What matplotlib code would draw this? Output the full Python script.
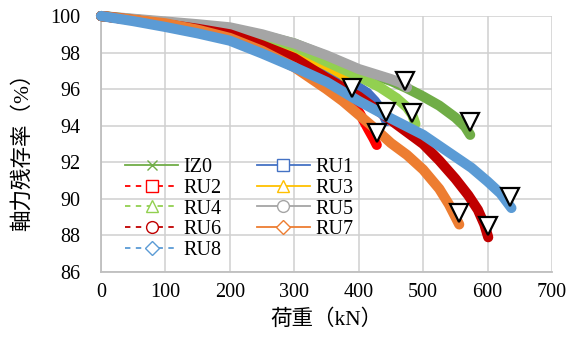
import matplotlib
matplotlib.use("Agg")
import matplotlib.pyplot as plt
from matplotlib.lines import Line2D

plt.rcParams['font.family'] = ['Liberation Serif', 'Noto Sans CJK JP', 'DejaVu Sans']

# ---- data (load kN, residual axial force ratio %) ----
names = ["IZ0", "RU1", "RU2", "RU3", "RU4", "RU5", "RU6", "RU7", "RU8"]

x_IZ0 = [0, 50, 100, 150, 200, 250, 300, 350, 400, 450, 475, 500, 525, 550, 565, 573]
y_IZ0 = [100, 99.82, 99.65, 99.5, 99.3, 98.95, 98.5, 97.8, 97.05, 96.45, 96.05, 95.6, 95.1, 94.45, 93.95, 93.5]

x_RU1 = [0, 50, 100, 150, 200, 250, 300, 350, 375, 400, 413, 425, 435, 443]
y_RU1 = [100, 99.78, 99.55, 99.3, 99.0, 98.5, 97.8, 96.95, 96.55, 96.1, 95.8, 95.35, 94.85, 94.25]

x_RU2 = [0, 50, 100, 150, 200, 250, 300, 350, 375, 389, 402, 415, 423, 428]
y_RU2 = [100, 99.78, 99.55, 99.3, 99.0, 98.4, 97.5, 96.4, 95.8, 95.35, 94.65, 93.8, 93.3, 92.95]

x_RU3 = [0, 50, 100, 150, 200, 250, 300, 350, 375, 390]
y_RU3 = [100, 99.8, 99.6, 99.4, 99.2, 98.75, 98.1, 97.3, 96.8, 96.3]

x_RU4 = [0, 50, 100, 150, 200, 250, 300, 350, 400, 433, 459, 475, 483, 488]
y_RU4 = [100, 99.82, 99.65, 99.5, 99.3, 98.9, 98.35, 97.5, 96.7, 96.1, 95.5, 95.0, 94.6, 94.1]

x_RU5 = [0, 50, 100, 150, 200, 250, 300, 350, 400, 450, 465, 475]
y_RU5 = [100, 99.85, 99.7, 99.55, 99.38, 99.0, 98.5, 97.85, 97.1, 96.55, 96.35, 96.1]

x_RU6 = [0, 50, 100, 150, 200, 250, 300, 350, 400, 450, 500, 525, 550, 570, 585, 595, 601]
y_RU6 = [100, 99.78, 99.55, 99.3, 99.0, 98.4, 97.7, 96.6, 95.6, 94.3, 93.0, 92.1, 91.1, 90.2, 89.4, 88.6, 87.9]

x_RU7 = [0, 50, 100, 150, 200, 250, 300, 350, 375, 400, 425, 450, 475, 500, 525, 540, 556]
y_RU7 = [100, 99.8, 99.6, 99.25, 98.8, 98.1, 97.2, 96.0, 95.35, 94.6, 93.85, 93.05, 92.4, 91.6, 90.55, 89.7, 88.6]

x_RU8 = [0, 50, 100, 150, 200, 250, 300, 350, 400, 450, 500, 550, 575, 600, 620, 637]
y_RU8 = [100, 99.72, 99.4, 99.05, 98.65, 97.95, 97.2, 96.4, 95.35, 94.4, 93.5, 92.3, 91.7, 90.95, 90.3, 89.5]

# failure markers (inverted triangles)
x_fail = [573, 442, 428, 389, 483, 472, 601, 556, 635]
y_fail = [94.2, 94.75, 93.6, 96.05, 94.7, 96.45, 88.5, 89.2, 90.1]

x_ticks = [0, 100, 200, 300, 400, 500, 600, 700]
y_ticks = [86, 88, 90, 92, 94, 96, 98, 100]

series_x = [x_IZ0, x_RU1, x_RU2, x_RU3, x_RU4, x_RU5, x_RU6, x_RU7, x_RU8]
series_y = [y_IZ0, y_RU1, y_RU2, y_RU3, y_RU4, y_RU5, y_RU6, y_RU7, y_RU8]

# ---- styles ----
colors = ["#70AD47", "#4472C4", "#FF0000", "#FFC000", "#92D050",
          "#A5A5A5", "#C00000", "#ED7D31", "#5B9BD5"]
markers = ["x", "s", "s", "^", "^", "o", "o", "D", "D"]
dashed = [False, False, True, False, True, False, True, False, True]

fig = plt.figure(figsize=(5.71, 3.49), dpi=100)
ax = fig.add_axes([101/571, 1-272/349, 451/571, 256/349])

for xs, ys, c in zip(series_x, series_y, colors):
    ax.plot(xs, ys, color=c, lw=7.3, solid_capstyle='round',
            solid_joinstyle='round', clip_on=False, zorder=3)

ax.plot(x_fail, y_fail, linestyle='none', marker='v', markersize=12.5,
        markerfacecolor='white', markeredgecolor='black',
        markeredgewidth=1.6, zorder=5, clip_on=False)

ax.set_xlim(0, 700)
ax.set_ylim(86, 100)
ax.set_xticks(x_ticks)
ax.set_yticks(y_ticks)
ax.tick_params(length=0, labelsize=14.5, colors='black')
ax.tick_params(axis='y', pad=15)
ax.tick_params(axis='x', pad=8)
ax.grid(True, color='#D0D0D0', lw=1.1)
ax.set_axisbelow(True)
for s in ['top', 'right']:
    ax.spines[s].set_visible(False)
for s in ['left', 'bottom']:
    ax.spines[s].set_color('#BFBFBF')
    ax.spines[s].set_linewidth(1.3)

ax.set_xlabel("荷重（kN）", fontsize=15.5, color='black')
ax.set_ylabel("軸力残存率（%）", fontsize=15.5, color='black')
ax.xaxis.set_label_coords(0.5, -0.145)
ax.yaxis.set_label_coords(-0.152, 0.49)

handles = {}
for n, c, m, d in zip(names, colors, markers, dashed):
    handles[n] = Line2D([0], [0], color=c, lw=1.3,
                        linestyle=(0, (3, 3)) if d else '-',
                        marker=m, markersize=8.5 if m in 's^o' else 7,
                        markerfacecolor='white' if m != 'x' else c,
                        markeredgecolor=c, markeredgewidth=1.0)
order = ["IZ0", "RU2", "RU4", "RU6", "RU8", "RU1", "RU3", "RU5", "RU7"]
leg = ax.legend([handles[n] for n in order], order, ncol=2, frameon=False,
                loc='upper left', bbox_to_anchor=(125/571, 1-158/349),
                bbox_transform=fig.transFigure, borderpad=0, borderaxespad=0,
                fontsize=14.5, handlelength=2.65, handletextpad=0.25,
                columnspacing=1.75, labelspacing=0.08)
leg.set_zorder(6)

fig.savefig("out.png", dpi=100)
